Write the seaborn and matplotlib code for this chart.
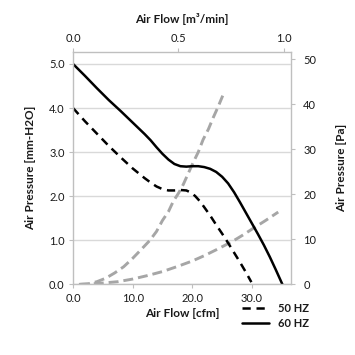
import matplotlib
matplotlib.use("Agg")
import matplotlib.pyplot as plt
import seaborn as sns

# ---- data (cfm, mm-H2O) ----
cfm_60 = [0, 2, 4, 6, 8, 10, 12, 13, 14, 15, 16, 17, 18, 19, 20, 21, 22, 23, 24, 25, 26, 27, 28, 29, 30, 31, 32, 33, 34, 35.1]
mm_60 = [5.00, 4.73, 4.45, 4.18, 3.93, 3.67, 3.41, 3.27, 3.11, 2.96, 2.83, 2.73, 2.68, 2.67, 2.68, 2.68, 2.66, 2.62, 2.55, 2.44, 2.29, 2.09, 1.86, 1.62, 1.38, 1.14, 0.89, 0.62, 0.33, 0.00]

cfm_50 = [0, 2, 4, 6, 8, 10, 11, 12, 13, 14, 15, 16, 17, 18, 19, 19.8, 20.5, 21.3, 22, 23, 24, 25, 26, 27, 28, 29, 29.9]
mm_50 = [4.00, 3.70, 3.42, 3.14, 2.88, 2.63, 2.52, 2.41, 2.31, 2.22, 2.16, 2.13, 2.13, 2.14, 2.13, 2.08, 2.00, 1.88, 1.75, 1.56, 1.35, 1.15, 0.94, 0.72, 0.50, 0.27, 0.05]

cfm_sys_a = [1.2, 2.5, 4.0, 5.5, 7.0, 8.5, 10.0, 11.5, 12.9, 14.0, 15.0, 16.0, 16.8, 17.7, 18.5, 19.3, 20.1, 21.0, 21.8, 22.7, 23.5, 24.3, 25.1]
mm_sys_a = [0.00, 0.01, 0.06, 0.14, 0.26, 0.40, 0.59, 0.80, 1.00, 1.20, 1.45, 1.65, 1.88, 2.07, 2.27, 2.51, 2.75, 3.00, 3.28, 3.52, 3.78, 4.02, 4.28]

cfm_sys_b = [1.0, 3.0, 5.0, 7.5, 10.0, 12.5, 15.0, 17.6, 20.0, 22.0, 24.1, 26.8, 28.5, 30.2, 32.3, 34.4]
mm_sys_b = [0.00, 0.01, 0.03, 0.06, 0.12, 0.20, 0.29, 0.41, 0.53, 0.65, 0.79, 0.98, 1.12, 1.27, 1.45, 1.64]

left_ticks = [0, 1, 2, 3, 4, 5]
bottom_ticks = [0, 10, 20, 30]
top_ticks = [0.0, 0.5, 1.0]
right_ticks = [0, 10, 20, 30, 40, 50]
labels_freq = ["50 HZ", "60 HZ"]

CFM_PER_M3MIN = 35.31
PA_PER_MM = 9.8

sns.set_theme(style="white")
plt.rcParams['font.family'] = ['Lato', 'DejaVu Sans']

grey_axis = "#bfbfbf"
grey_line = "#a6a6a6"
tick_fs = 8.0
label_fs = 8.5
txt = "#1a1a1a"

fig = plt.figure(figsize=(3.55, 3.55), dpi=100)
ax = fig.add_axes([0.2056, 0.199, 0.8190 - 0.2056, 0.8535 - 0.199])

ax.set_xlim(0, 36.5)
ax.set_ylim(0, 5.27)

ax.yaxis.grid(True, color="#d9d9d9", lw=1.0)
ax.set_axisbelow(True)

# system curves (gray dashed)
for xs, ys in [(cfm_sys_a, mm_sys_a), (cfm_sys_b, mm_sys_b)]:
    sns.lineplot(x=xs, y=ys, ax=ax, color=grey_line, lw=2.1, legend=False,
                 linestyle=(0, (3.4, 1.7)), dash_capstyle="butt")

sns.lineplot(x=cfm_50, y=mm_50, ax=ax, color="black", lw=1.8,
             linestyle=(0, (3.3, 2.3)), label=labels_freq[0])
sns.lineplot(x=cfm_60, y=mm_60, ax=ax, color="black", lw=1.8, label=labels_freq[1])

ax.set_xticks(bottom_ticks)
ax.set_xticklabels([f"{v:.1f}" for v in bottom_ticks])
ax.set_yticks(left_ticks)
ax.set_yticklabels([f"{v:.1f}" for v in left_ticks])

for s in ["top", "right"]:
    ax.spines[s].set_visible(False)
for s in ["left", "bottom"]:
    ax.spines[s].set_color(grey_axis)
    ax.spines[s].set_linewidth(1.0)

ax.tick_params(axis="both", which="major", direction="out", length=3, width=0.8,
               color=grey_axis, labelsize=tick_fs, labelcolor=txt, pad=3,
               bottom=True, left=True)

ax.set_xlabel("Air Flow [cfm]", fontsize=label_fs, fontweight="bold", labelpad=3, color=txt)
ax.set_ylabel("Air Pressure [mm-H2O]", fontsize=label_fs, fontweight="bold", labelpad=9, color=txt)

# top axis in m3/min
secx = ax.secondary_xaxis("top", functions=(lambda x: x / CFM_PER_M3MIN, lambda x: x * CFM_PER_M3MIN))
secx.set_xticks(top_ticks)
secx.set_xticklabels([f"{v:.1f}" for v in top_ticks])
secx.spines["top"].set_color(grey_axis)
secx.spines["top"].set_linewidth(1.0)
secx.tick_params(axis="x", direction="out", length=3, width=0.8, color=grey_axis,
                 labelsize=tick_fs, labelcolor=txt, pad=3)
secx.set_xlabel("Air Flow [m\u00b3/min]", fontsize=label_fs, fontweight="bold", labelpad=7, color=txt)

# right axis in Pa
secy = ax.secondary_yaxis("right", functions=(lambda y: y * PA_PER_MM, lambda y: y / PA_PER_MM))
secy.set_yticks(right_ticks)
secy.set_yticklabels([f"{v}" for v in right_ticks])
secy.spines["right"].set_color(grey_axis)
secy.spines["right"].set_linewidth(1.0)
secy.tick_params(axis="y", direction="out", length=3, width=0.8, color=grey_axis,
                 labelsize=tick_fs, labelcolor=txt, pad=6)
secy.set_ylabel("Air Pressure [Pa]", fontsize=label_fs, fontweight="bold", labelpad=14, color=txt)

handles, labels = ax.get_legend_handles_labels()
ax.legend(handles, labels, loc="upper left", bbox_to_anchor=(0.682, 0.146),
          bbox_transform=fig.transFigure, frameon=False,
          prop={"weight": "bold", "size": tick_fs}, handlelength=2.4,
          handletextpad=0.8, labelspacing=0.35, borderpad=0, borderaxespad=0)
for t in ax.get_legend().get_texts():
    t.set_color(txt)

fig.savefig("out.png", dpi=100)
